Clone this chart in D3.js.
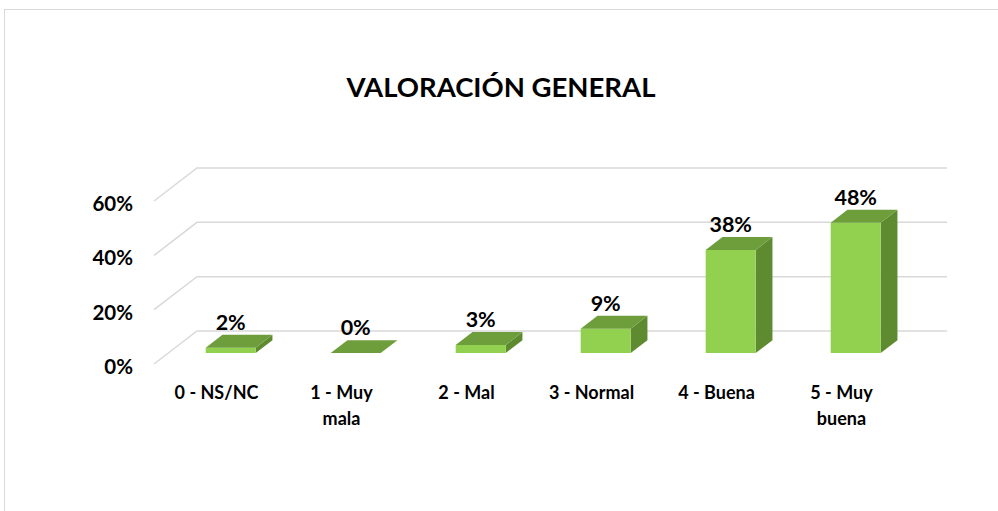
<!DOCTYPE html>
<html>
<head>
<meta charset="utf-8">
<script src="https://cdn.jsdelivr.net/npm/d3@7/dist/d3.min.js"></script>
<style>
  html, body { margin: 0; padding: 0; background: #fff; }
  svg { display: block; }
  text { font-family: Lato, "Open Sans", sans-serif; font-weight: bold; fill: #000; }
</style>
</head>
<body>
<svg id="chart" width="998" height="511"></svg>
<script>
const title = "VALORACIÓN GENERAL";
const categories = [["0 - NS/NC"], ["1 - Muy", "mala"], ["2 - Mal"], ["3 - Normal"], ["4 - Buena"], ["5 - Muy", "buena"]];
const values = [0.02, 0.00, 0.03, 0.09, 0.38, 0.48];
const valueLabels = ["2%", "0%", "3%", "9%", "38%", "48%"];
const yTicks = [0, 0.2, 0.4, 0.6];
const yTickLabels = ["0%", "20%", "40%", "60%"];

const svg = d3.select("#chart");
const colors = { front: "#92D050", top: "#6E9E3C", side: "#5E8B30", grid: "#D9D9D9" };

// 3D geometry
const DX = 43, DY = 33;         // full depth offset
const z1 = 0.33, z2 = 0.72;     // bar depth range
const x = d3.scaleBand().domain(d3.range(categories.length)).range([154, 904]).paddingInner(0.6).paddingOuter(0.3);
const y = d3.scaleLinear().domain([0, 0.6]).range([364, 201]);
const P = (px, v, z) => [px + z * DX, y(v) - z * DY];

// border
svg.append("rect").attr("x", 4.5).attr("y", 9.5).attr("width", 1100).attr("height", 600)
  .attr("fill", "none").attr("stroke", "#D9D9D9").attr("stroke-width", 1);

// gridlines (left wall + back wall)
const gx0 = x.range()[0], gx1 = x.range()[1];
const grid = svg.append("g");
yTicks.forEach(t => {
  const a = P(gx0, t, 0), b = P(gx0, t, 1), c = P(gx1, t, 1);
  grid.append("polyline").attr("points", [a, b, c].map(p => p.join(",")).join(" "))
    .attr("fill", "none").attr("stroke", colors.grid).attr("stroke-width", 1.5);
});

// y tick labels
svg.append("g").selectAll("text").data(yTicks).join("text")
  .attr("x", 133).attr("y", d => y(d) + 10)
  .attr("text-anchor", "end").attr("font-size", 20.5)
  .text((d, i) => yTickLabels[i]);

// bars
const bars = svg.append("g");
const w = x.bandwidth();
values.forEach((v, i) => {
  const bx = x(i);
  const fTL = P(bx, v, z1), fTR = P(bx + w, v, z1), fBR = P(bx + w, 0, z1), fBL = P(bx, 0, z1);
  const bTL = P(bx, v, z2), bTR = P(bx + w, v, z2), bBR = P(bx + w, 0, z2);
  const g = bars.append("g");
  if (v > 0) {
    g.append("polygon").attr("points", [fTR, bTR, bBR, fBR].map(p => p.join(",")).join(" ")).attr("fill", colors.side);
    g.append("polygon").attr("points", [fTL, fTR, fBR, fBL].map(p => p.join(",")).join(" ")).attr("fill", colors.front);
  }
  g.append("polygon").attr("points", [fTL, fTR, bTR, bTL].map(p => p.join(",")).join(" ")).attr("fill", colors.top);
  svg.append("text").attr("x", fTL[0] + w / 2).attr("y", bTL[1] - 5)
    .attr("text-anchor", "middle").attr("font-size", 21.5).text(valueLabels[i]);
});

// category labels
const cat = svg.append("g");
categories.forEach((lines, i) => {
  const cx = x(i) + w / 2;
  const t = cat.append("text").attr("text-anchor", "middle").attr("font-size", 18);
  lines.forEach((s, j) => t.append("tspan").attr("x", cx).attr("y", 399 + j * 26).text(s));
});

// title
svg.append("text").attr("x", 501).attr("y", 97).attr("text-anchor", "middle")
  .attr("font-size", 27.5).text(title);
</script>
</body>
</html>
